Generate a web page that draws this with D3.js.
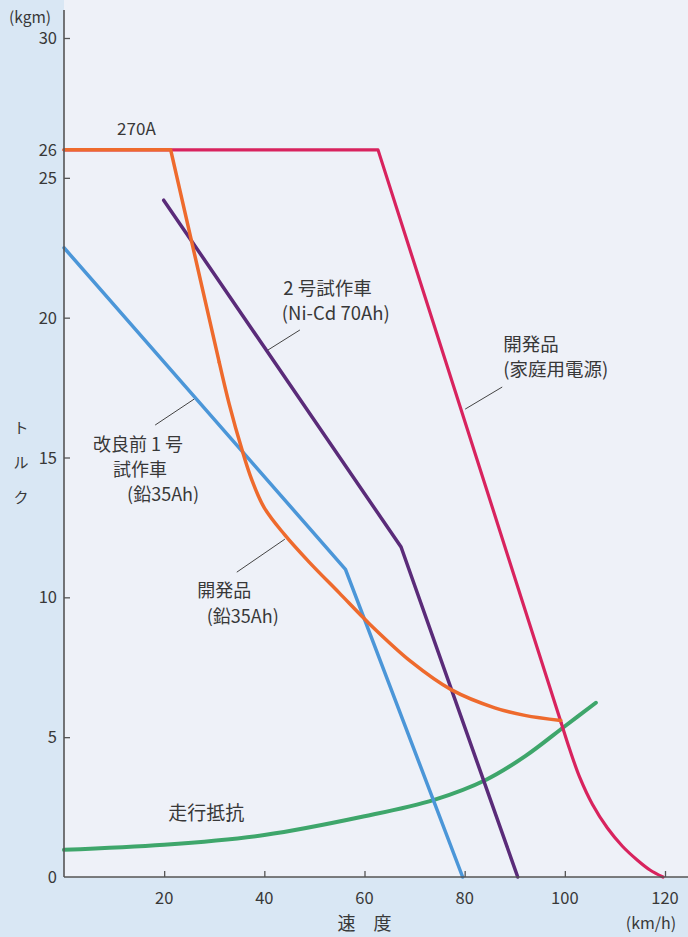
<!DOCTYPE html>
<html>
<head>
<meta charset="utf-8">
<script src="https://cdn.jsdelivr.net/npm/d3@7"></script>
<style>
  body { margin: 0; background: #d9e7f4; }
  text { font-family: "Noto Sans CJK JP", "Noto Sans", sans-serif; fill: #383838; }
</style>
</head>
<body>
<div id="chart"></div>
<script>
var width = 688;
var height = 937;

// tick values
var speedTicks = [20, 40, 60, 80, 100, 120];
var torqueTicks = [5, 10, 15, 20, 25, 30];
var torqueLabels = [0, 5, 10, 15, 20, 25, 26, 30];

// curves: [speed km/h, torque kgm]
// 開発品（家庭用電源）: straight part, then the falling tail
var homePowerLine = [[0, 26], [62.7, 26], [99.3, 5.5]];
var homePowerTail = [[99.3, 5.5], [101, 4.55], [103, 3.55], [105.5, 2.6], [108.5, 1.75], [111.5, 1.1], [114.5, 0.6], [117, 0.25], [119.6, 0]];
// 開発品（鉛35Ah）: 270A limit, then the curve
var leadDevLine = [[0, 26], [21.3, 26], [31, 18.4]];
var leadDevTail = [[31, 18.4], [33, 16.9], [35.5, 15.3], [37.5, 14.2], [40, 13.2], [44, 12.25], [49, 11.25], [55, 10.15], [61, 9.05], [69.3, 7.7], [77.3, 6.7], [86, 6.05], [92, 5.78], [99.2, 5.6]];
// 2号試作車（Ni-Cd 70Ah）
var niCd70 = [[19.9, 24.2], [67.3, 11.8], [90.6, 0]];
// 改良前1号試作車（鉛35Ah）
var leadOld = [[0, 22.5], [56.2, 11.0], [79.6, 0]];
// 走行抵抗
var roadLoad = [[0, 0.97], [20, 1.15], [40, 1.5], [60, 2.17], [73.9, 2.76], [84.3, 3.48], [92.1, 4.32], [100, 5.39], [106.2, 6.23]];

var x = d3.scaleLinear().domain([0, 120]).range([64, 665]);
var y = d3.scaleLinear().domain([0, 30]).range([877, 38]);

var svg = d3.select("#chart")
  .append("svg")
  .attr("width", width)
  .attr("height", height);

// backgrounds
svg.append("rect").attr("width", width).attr("height", height).attr("fill", "#d9e7f4");
svg.append("rect")
  .attr("x", x(0)).attr("y", 0)
  .attr("width", width - x(0)).attr("height", y(0))
  .attr("fill", "#eef1f8");

var straight = d3.line().x(function(d) { return x(d[0]); }).y(function(d) { return y(d[1]); });
var smooth = d3.line().curve(d3.curveCatmullRom.alpha(0.5)).x(function(d) { return x(d[0]); }).y(function(d) { return y(d[1]); });

function curve(pts, gen, color, w) {
  svg.append("path")
    .attr("d", gen(pts))
    .attr("fill", "none")
    .attr("stroke", color)
    .attr("stroke-width", w)
    .attr("stroke-linejoin", "round")
    .attr("stroke-linecap", "round");
}

curve(roadLoad, smooth, "#3ea66b", 4);
curve(leadOld, straight, "#4b96d8", 3.5);
curve(niCd70, straight, "#5a2b79", 3.5);
curve(homePowerLine, straight, "#d8235e", 3.2);
curve(homePowerTail, smooth, "#d8235e", 3.2);
curve(leadDevLine, straight, "#ee6a2d", 3.5);
curve(leadDevTail, smooth, "#ee6a2d", 3.5);

// axes
var yAxis = d3.axisRight(y).tickValues(torqueTicks).tickSize(6).tickFormat("");
svg.append("g")
  .attr("transform", "translate(" + x(0) + ",0)")
  .call(yAxis)
  .call(function(g) {
    g.select(".domain").remove();
    g.selectAll("line").attr("stroke", "#555").attr("stroke-width", 1.3);
  });
svg.append("line")
  .attr("x1", x(0)).attr("x2", x(0)).attr("y1", 10).attr("y2", y(0))
  .attr("stroke", "#555").attr("stroke-width", 1.6);

var xAxis = d3.axisTop(x).tickValues(speedTicks).tickSize(6).tickFormat("");
svg.append("g")
  .attr("transform", "translate(0," + y(0) + ")")
  .call(xAxis)
  .call(function(g) {
    g.select(".domain").remove();
    g.selectAll("line").attr("stroke", "#555").attr("stroke-width", 1.3);
  });
svg.append("line")
  .attr("x1", x(0)).attr("x2", width).attr("y1", y(0)).attr("y2", y(0))
  .attr("stroke", "#555").attr("stroke-width", 1.6);

// tick labels
svg.selectAll(".ylab")
  .data(torqueLabels)
  .enter().append("text")
  .attr("x", 57)
  .attr("y", function(d) { return y(d) + 6; })
  .attr("text-anchor", "end")
  .attr("font-size", 16.5)
  .text(function(d) { return d; });

svg.selectAll(".xlab")
  .data(speedTicks)
  .enter().append("text")
  .attr("x", function(d) { return x(d); })
  .attr("y", 904)
  .attr("text-anchor", "middle")
  .attr("font-size", 16.5)
  .text(function(d) { return d; });

svg.append("text").attr("x", 30).attr("y", 23).attr("text-anchor", "middle").attr("font-size", 15.5).text("(kgm)");
svg.append("text").attr("x", 651).attr("y", 929).attr("text-anchor", "middle").attr("font-size", 16).text("(km/h)");
svg.append("text").attr("x", x(60)).attr("y", 930).attr("text-anchor", "middle").attr("font-size", 18).text("速　度");

["ト", "ル", "ク"].forEach(function(c, i) {
  svg.append("text")
    .attr("x", 21).attr("y", 433 + i * 35)
    .attr("text-anchor", "middle").attr("font-size", 15)
    .text(c);
});

// annotations (speed, torque of the text baseline start)
var notes = [
  { t: "270A", sx: 10.6, ty: 26.53, size: 17 },
  { t: "2 号試作車", sx: 43.8, ty: 20.8, size: 18.5 },
  { t: "(Ni-Cd  70Ah)", sx: 43.5, ty: 19.9, size: 18.5 },
  { t: "開発品", sx: 87.7, ty: 18.8, size: 18.5 },
  { t: "(家庭用電源)", sx: 87.7, ty: 17.9, size: 18.5 },
  { t: "改良前 1 号", sx: 5.8, ty: 15.22, size: 18 },
  { t: "試作車", sx: 9.8, ty: 14.34, size: 18 },
  { t: "(鉛35Ah)", sx: 12.6, ty: 13.46, size: 18 },
  { t: "開発品", sx: 26.6, ty: 10.0, size: 18 },
  { t: "(鉛35Ah)", sx: 28.5, ty: 9.1, size: 18 },
  { t: "走行抵抗", sx: 20.8, ty: 2.04, size: 19 }
];
svg.selectAll(".note")
  .data(notes)
  .enter().append("text")
  .attr("x", function(d) { return x(d.sx); })
  .attr("y", function(d) { return y(d.ty); })
  .attr("font-size", function(d) { return d.size; })
  .text(function(d) { return d.t; });

// leader lines
var leaders = [
  [[47.1, 19.56], [40.7, 18.84]],
  [[87.5, 17.52], [80.1, 16.73]],
  [[26.0, 17.09], [18.2, 16.16]],
  [[44.1, 12.08], [34.5, 10.9]]
];
leaders.forEach(function(l) {
  svg.append("path")
    .attr("d", straight(l))
    .attr("stroke", "#444")
    .attr("stroke-width", 1);
});
</script>
</body>
</html>
